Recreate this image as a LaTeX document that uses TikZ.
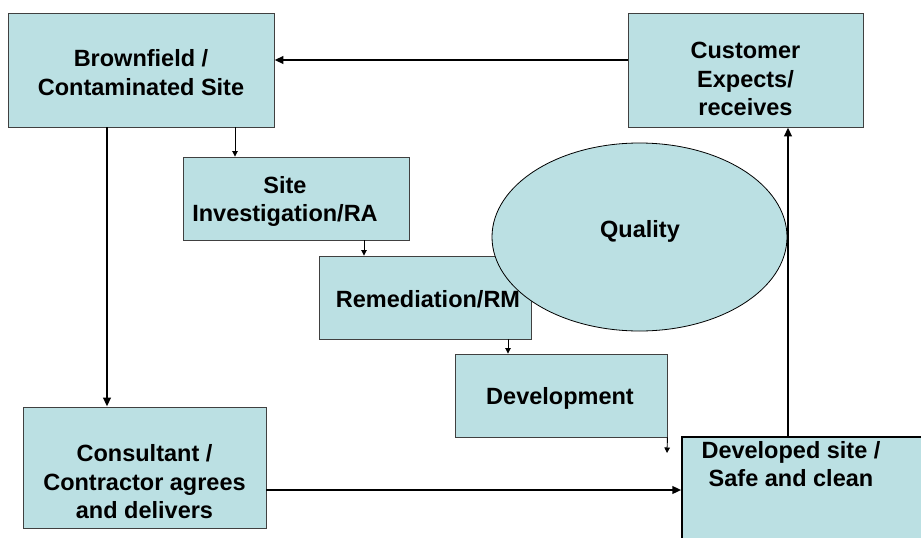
\documentclass[tikz,border=0pt]{standalone}
\usepackage{fontspec}
\setmainfont{Liberation Sans}
\usetikzlibrary{arrows.meta, shapes.geometric}
\definecolor{boxfill}{RGB}{187,224,227}
\definecolor{boxline}{RGB}{64,64,64}

\begin{document}
\begin{tikzpicture}[
        x=1pt, y=-1pt,
        box/.style={rectangle, draw=boxline, fill=boxfill, line width=0.9pt, inner sep=0pt},
        lbl/.style={align=center, font=\fontsize{23.5}{28.5}\selectfont\bfseries, inner sep=0pt},
        thickarrow/.style={-{Triangle[length=9pt, width=7.5pt]}, line width=2.6pt},
        thinarrow/.style={-{Triangle[length=5.5pt, width=5.5pt]}, line width=0.9pt}
    ]
        \clip (0,0) rectangle (921,538);

        % boxes
        \node[box, minimum width=266pt, minimum height=114pt] (brown) at (141,70) {};
        \node[box, minimum width=235pt, minimum height=114pt] (cust) at (745.5,70) {};
        \node[box, minimum width=226pt, minimum height=83pt] (site) at (296,198.5) {};
        \node[box, minimum width=212pt, minimum height=83pt] (remed) at (425,297.5) {};
        \node[box, minimum width=212pt, minimum height=83pt] (devt) at (561,395.5) {};
        \node[box, minimum width=243pt, minimum height=121pt] (cons) at (144.5,467.5) {};
        \node[box, draw=black, line width=1.3pt, minimum width=260pt, minimum height=125pt] (devd) at (812,499.5) {};

        % quality sits over the remediation box
        \node[ellipse, draw=black, fill=boxfill, line width=0.8pt, minimum width=295pt, minimum height=188pt, inner sep=0pt] (quality) at (639.5,237) {};

        % texts
        \node[lbl] (browntxt) at (141,72.5) {Brownfield /\\Contaminated Site};
        \node[lbl] (custtxt) at (745.5,79) {Customer\\Expects/\\receives};
        \node[lbl] (sitetxt) at (285,201.5) {Site\\Investigation/RA};
        \node[lbl] (remtxt) at (428,299) {Remediation/RM};
        \node[lbl] (devttxt) at (560,398) {Development};
        \node[lbl] (constxt) at (144.5,482) {Consultant /\\Contractor agrees\\and delivers};
        \node[lbl] (devdtxt) at (791,464) {Developed site /\\Safe and clean};
        \node[lbl] (qualtxt) at (640,231) {Quality};

        % main loop
        \draw[thickarrow] ([yshift=10pt]cust.west) -- ([yshift=10pt]brown.east);
        \draw[thickarrow] ([xshift=-34pt]brown.south) -- ([xshift=-34pt]brown.south |- cons.north);
        \draw[thickarrow] ([yshift=-22.5pt]cons.east) -- ([yshift=-22.5pt]cons.east -| devd.west);
        \draw[thickarrow] ([xshift=42.5pt]cust.south |- devd.north) -- ([xshift=42.5pt]cust.south);

        % inner steps
        \coordinate (devend) at (667,453);
        \draw[thinarrow] ([xshift=94pt]brown.south) -- ([xshift=94pt]brown.south |- site.north);
        \draw[thinarrow] ([xshift=68pt]site.south) -- ([xshift=68pt]site.south |- remed.north);
        \draw[thinarrow] ([xshift=83pt]remed.south) -- ([xshift=83pt]remed.south |- devt.north);
        \draw[thinarrow] (devt.south east) -- (devend);
\end{tikzpicture}
\end{document}
